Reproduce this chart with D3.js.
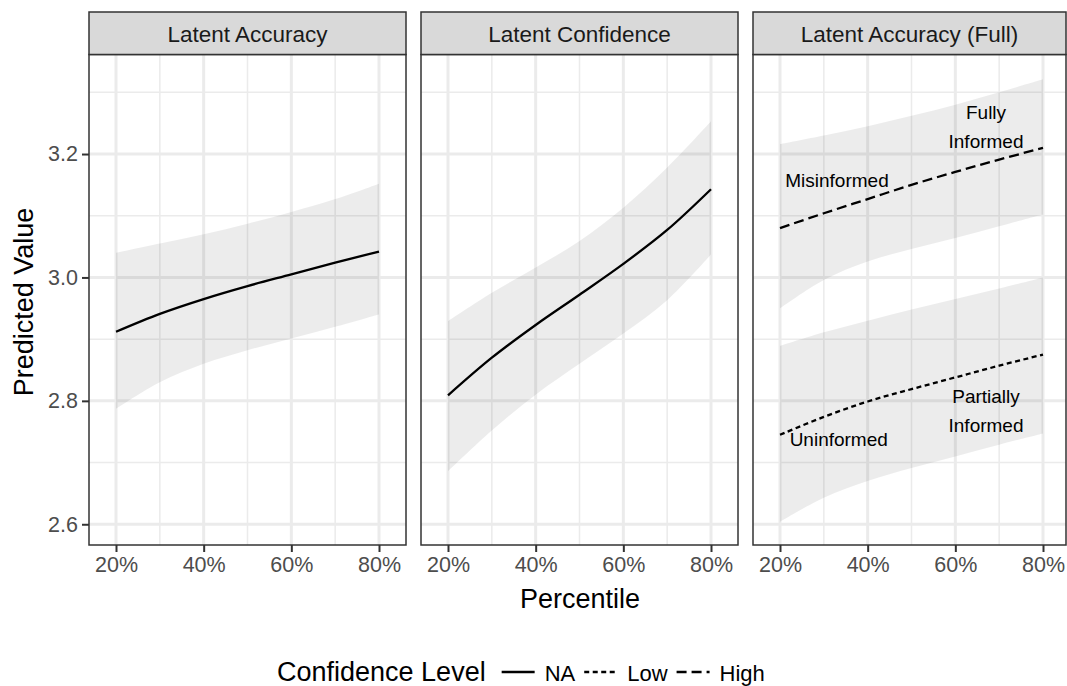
<!DOCTYPE html>
<html>
<head>
<meta charset="utf-8">
<script src="https://cdn.jsdelivr.net/npm/d3@7"></script>
<style>
  body { margin: 0; background: #fff; }
  svg { display: block; font-family: "Liberation Sans", Arial, sans-serif; }
</style>
</head>
<body>
<script>
// percentiles the predictions were computed at
const percentiles = [20, 30, 40, 50, 60, 70, 80];

const facets = ["Latent Accuracy", "Latent Confidence", "Latent Accuracy (Full)"];

// Latent Accuracy
const accFit   = [2.912, 2.941, 2.965, 2.986, 3.005, 3.024, 3.042];
const accUpper = [3.040, 3.055, 3.070, 3.087, 3.106, 3.127, 3.152];
const accLower = [2.787, 2.830, 2.860, 2.882, 2.901, 2.920, 2.940];

// Latent Confidence
const confFit   = [2.809, 2.870, 2.923, 2.972, 3.022, 3.077, 3.143];
const confUpper = [2.929, 2.975, 3.016, 3.059, 3.113, 3.178, 3.253];
const confLower = [2.686, 2.752, 2.810, 2.860, 2.909, 2.963, 3.037];

// Latent Accuracy (Full) - high confidence
const highFit   = [3.080, 3.104, 3.127, 3.150, 3.171, 3.191, 3.210];
const highUpper = [3.216, 3.230, 3.245, 3.262, 3.280, 3.300, 3.321];
const highLower = [2.950, 2.996, 3.026, 3.046, 3.064, 3.083, 3.102];

// Latent Accuracy (Full) - low confidence
const lowFit   = [2.745, 2.774, 2.799, 2.819, 2.838, 2.857, 2.875];
const lowUpper = [2.889, 2.911, 2.930, 2.948, 2.965, 2.982, 3.000];
const lowLower = [2.604, 2.643, 2.670, 2.691, 2.710, 2.729, 2.747];

const yTicks = [2.6, 2.8, 3.0, 3.2];
const yMinor = [2.7, 2.9, 3.1, 3.3];
const xTicks = [20, 40, 60, 80];
const xMinor = [30, 50, 70];

const legendLevels = ["NA", "Low", "High"];

// annotation labels in the full panel: [text lines, percentile, value]
const annotLabels = [
  { lines: ["Fully", "Informed"], x: 67, y: 3.245 },
  { lines: ["Misinformed"], x: 33, y: 3.158 },
  { lines: ["Partially", "Informed"], x: 67, y: 2.785 },
  { lines: ["Uninformed"], x: 33.4, y: 2.738 }
];

function zipBand(fit, upper, lower) {
  return percentiles.map((p, i) => ({ p, fit: fit[i], hi: upper[i], lo: lower[i] }));
}

const panels = [
  { title: facets[0], series: [{ level: "NA", data: zipBand(accFit, accUpper, accLower) }] },
  { title: facets[1], series: [{ level: "NA", data: zipBand(confFit, confUpper, confLower) }] },
  { title: facets[2], series: [
      { level: "High", data: zipBand(highFit, highUpper, highLower) },
      { level: "Low", data: zipBand(lowFit, lowUpper, lowLower) }
    ], labels: true }
];

const dashFor = { "NA": null, "Low": "5,3.5", "High": "10,5" };

const W = 1067, H = 686;
const plotTop = 54.5, plotBottom = 545, stripTop = 12;
const panelLeft = [89, 421, 753];
const panelWidth = [317, 317, 313];

const svg = d3.select("body").append("svg")
  .attr("width", W)
  .attr("height", H);

const y = d3.scaleLinear()
  .domain([2.5664, 3.3613])
  .range([plotBottom, plotTop]);

panels.forEach((panel, pi) => {
  const left = panelLeft[pi];
  const width = panelWidth[pi];

  // 20% sits 27px in from the left edge, 80% 263px further
  const x = d3.scaleLinear()
    .domain([20, 80])
    .range([left + 27, left + 290]);

  const g = svg.append("g").attr("class", "panel");

  g.append("rect")
    .attr("x", left).attr("y", plotTop)
    .attr("width", width).attr("height", plotBottom - plotTop)
    .attr("fill", "#fff");

  // minor grid
  g.selectAll("line.ymin").data(yMinor).join("line")
    .attr("class", "ymin")
    .attr("x1", left).attr("x2", left + width)
    .attr("y1", d => y(d)).attr("y2", d => y(d))
    .attr("stroke", "#ebebeb").attr("stroke-width", 1.5);
  g.selectAll("line.xmin").data(xMinor).join("line")
    .attr("class", "xmin")
    .attr("x1", d => x(d)).attr("x2", d => x(d))
    .attr("y1", plotTop).attr("y2", plotBottom)
    .attr("stroke", "#ebebeb").attr("stroke-width", 1.5);

  // major grid
  g.selectAll("line.ymaj").data(yTicks).join("line")
    .attr("class", "ymaj")
    .attr("x1", left).attr("x2", left + width)
    .attr("y1", d => y(d)).attr("y2", d => y(d))
    .attr("stroke", "#ebebeb").attr("stroke-width", 3);
  g.selectAll("line.xmaj").data(xTicks).join("line")
    .attr("class", "xmaj")
    .attr("x1", d => x(d)).attr("x2", d => x(d))
    .attr("y1", plotTop).attr("y2", plotBottom)
    .attr("stroke", "#ebebeb").attr("stroke-width", 3);

  const area = d3.area()
    .x(d => x(d.p))
    .y0(d => y(d.lo))
    .y1(d => y(d.hi))
    .curve(d3.curveCatmullRom);

  const line = d3.line()
    .x(d => x(d.p))
    .y(d => y(d.fit))
    .curve(d3.curveCatmullRom);

  panel.series.forEach(s => {
    g.append("path")
      .attr("d", area(s.data))
      .attr("fill", "#000")
      .attr("fill-opacity", 0.075);
  });

  panel.series.forEach(s => {
    g.append("path")
      .attr("d", line(s.data))
      .attr("fill", "none")
      .attr("stroke", "#000")
      .attr("stroke-width", 2.3)
      .attr("stroke-dasharray", dashFor[s.level]);
  });

  if (panel.labels) {
    annotLabels.forEach(lab => {
      const n = lab.lines.length;
      const t = g.append("text")
        .attr("text-anchor", "middle")
        .attr("font-size", 19)
        .attr("fill", "#000");
      lab.lines.forEach((ln, li) => {
        t.append("tspan")
          .attr("x", x(lab.x))
          .attr("y", y(lab.y) + 7 + (li - (n - 1) / 2) * 29)
          .text(ln);
      });
    });
  }

  // panel border
  g.append("rect")
    .attr("x", left).attr("y", plotTop)
    .attr("width", width).attr("height", plotBottom - plotTop)
    .attr("fill", "none")
    .attr("stroke", "#333").attr("stroke-width", 1.5);

  // strip
  g.append("rect")
    .attr("x", left).attr("y", stripTop)
    .attr("width", width).attr("height", plotTop - stripTop)
    .attr("fill", "#d9d9d9")
    .attr("stroke", "#333").attr("stroke-width", 1.5);
  g.append("text")
    .attr("x", left + width / 2).attr("y", 41.5)
    .attr("text-anchor", "middle")
    .attr("font-size", 22.5)
    .attr("fill", "#1a1a1a")
    .text(panel.title);

  // x axis
  const xAxis = svg.append("g")
    .attr("transform", `translate(0,${plotBottom})`)
    .call(d3.axisBottom(x).tickValues(xTicks).tickFormat(d => d + "%").tickSize(7).tickPadding(5));
  xAxis.select(".domain").remove();
  xAxis.selectAll(".tick line").attr("stroke", "#333").attr("stroke-width", 2);
  xAxis.selectAll(".tick text")
    .attr("font-size", 21.5)
    .attr("fill", "#4d4d4d")
    .attr("font-family", "Liberation Sans, Arial, sans-serif");

  if (pi === 0) {
    const yAxis = svg.append("g")
      .attr("transform", `translate(${left},0)`)
      .call(d3.axisLeft(y).tickValues(yTicks).tickFormat(d3.format(".1f")).tickSize(7).tickPadding(4));
    yAxis.select(".domain").remove();
    yAxis.selectAll(".tick line").attr("stroke", "#333").attr("stroke-width", 2);
    yAxis.selectAll(".tick text")
      .attr("font-size", 21.5)
      .attr("fill", "#4d4d4d")
      .attr("font-family", "Liberation Sans, Arial, sans-serif");
  }
});

// axis titles
svg.append("text")
  .attr("x", 580).attr("y", 608)
  .attr("text-anchor", "middle")
  .attr("font-size", 27)
  .attr("fill", "#000")
  .text("Percentile");

svg.append("text")
  .attr("transform", "translate(33,302) rotate(-90)")
  .attr("text-anchor", "middle")
  .attr("font-size", 27)
  .attr("fill", "#000")
  .text("Predicted Value");

// legend
const legend = svg.append("g").attr("class", "legend");
const legY = 681;
const legTitle = legend.append("text")
  .attr("x", 277).attr("y", legY)
  .attr("font-size", 27)
  .attr("fill", "#000")
  .text("Confidence Level");

let cx = 277 + legTitle.node().getComputedTextLength() + 16;
legendLevels.forEach(level => {
  legend.append("line")
    .attr("x1", cx).attr("x2", cx + 33)
    .attr("y1", legY - 9).attr("y2", legY - 9)
    .attr("stroke", "#000")
    .attr("stroke-width", 2.3)
    .attr("stroke-dasharray", dashFor[level]);
  cx += 33 + 10;
  const t = legend.append("text")
    .attr("x", cx).attr("y", legY)
    .attr("font-size", 22)
    .attr("fill", "#000")
    .text(level);
  cx += t.node().getComputedTextLength() + 9;
});
</script>
</body>
</html>
